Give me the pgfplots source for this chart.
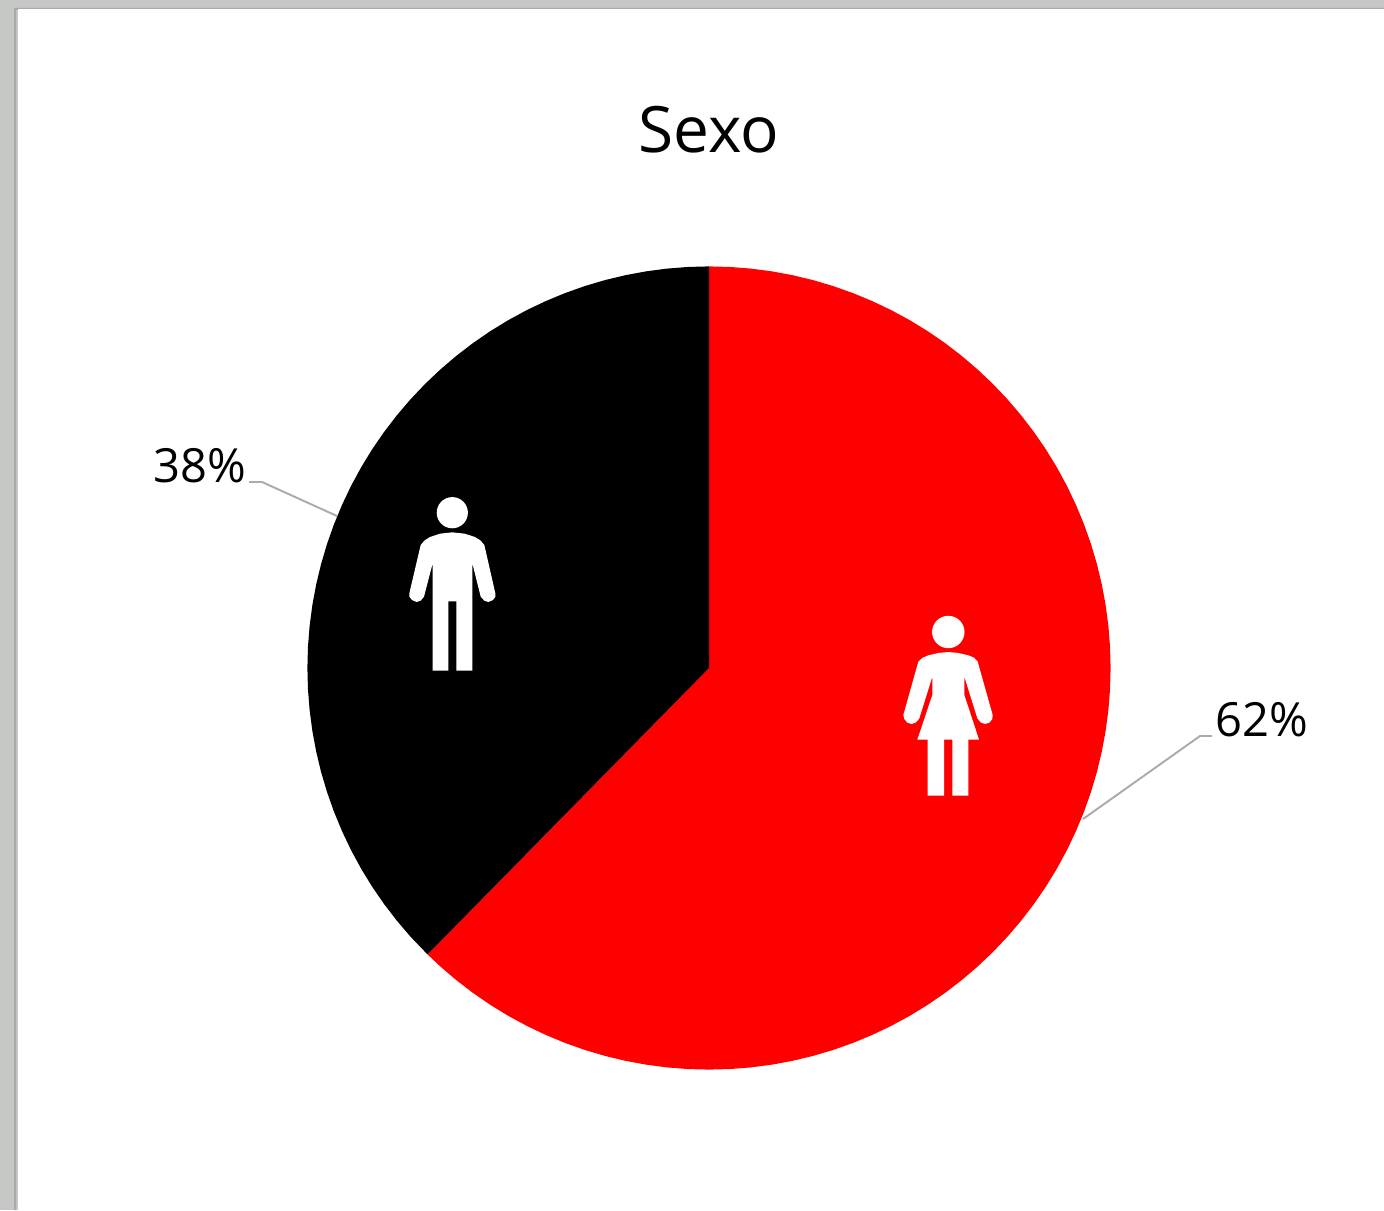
\documentclass[border=0pt]{standalone}
\usepackage{pgfplots}
\pgfplotsset{compat=1.18}
\usepackage{fontspec}
\setmainfont{Open Sans}
\definecolor{pagegrey}{HTML}{C6C8C6}
\definecolor{shadowgrey}{HTML}{A9ABA9}
\definecolor{leader}{HTML}{ABABAB}
\begin{document}
\begin{tikzpicture}
\begin{axis}[
  hide axis, scale only axis, width=13.84cm, height=12.1cm,
  xmin=-709, xmax=675, ymin=-542, ymax=668,
  clip=true, axis equal image=false
]
% window background (pixels measured from the pie centre)
\addplot[fill=pagegrey,draw=none] coordinates {(-709,668)(675,668)(675,-542)(-709,-542)} --cycle;
\addplot[fill=shadowgrey,draw=none] coordinates {(-695,660)(675,660)(675,658)(-693,658)(-693,-542)(-695,-542)} --cycle;
\addplot[fill=white,draw=none] coordinates {(-691,659)(675,659)(675,-542)(-691,-542)} --cycle;
% Mujer 62 %
\addplot[data cs=polar,fill=red,draw=none] coordinates {
(0,0)(90,401.6)(87,401.6)(84,401.6)(81,401.6)(78,401.6)(75,401.6)(72,401.6)(69,401.6)(66,401.6)(63,401.6)(60,401.6)(57,401.6)(54,401.6)(51,401.6)(48,401.6)(45,401.6)(42,401.6)(39,401.6)(36,401.6)(33,401.6)(30,401.6)(27,401.6)(24,401.6)(21,401.6)(18,401.6)(15,401.6)(12,401.6)(9,401.6)(6,401.6)(3,401.6)(0,401.6)
(-3,401.6)(-6,401.6)(-9,401.6)(-12,401.6)(-15,401.6)(-18,401.6)(-21,401.6)(-24,401.6)(-27,401.6)(-30,401.6)(-33,401.6)(-36,401.6)(-39,401.6)(-42,401.6)(-45,401.6)(-48,401.6)(-51,401.6)(-54,401.6)(-57,401.6)(-60,401.6)(-63,401.6)(-66,401.6)(-69,401.6)(-72,401.6)(-75,401.6)(-78,401.6)(-81,401.6)(-84,401.6)(-87,401.6)(-90,401.6)(-93,401.6)(-96,401.6)(-99,401.6)(-102,401.6)(-105,401.6)(-108,401.6)(-111,401.6)(-114,401.6)(-117,401.6)(-120,401.6)(-123,401.6)(-126,401.6)(-129,401.6)(-132,401.6)(-134.5,401.6)
} --cycle;
% Hombre 38 %
\addplot[data cs=polar,fill=black,draw=none] coordinates {
(0,0)(90,401.6)(93,401.6)(96,401.6)(99,401.6)(102,401.6)(105,401.6)(108,401.6)(111,401.6)(114,401.6)(117,401.6)(120,401.6)(123,401.6)(126,401.6)(129,401.6)(132,401.6)(135,401.6)(138,401.6)(141,401.6)(144,401.6)(147,401.6)(150,401.6)(153,401.6)(156,401.6)(159,401.6)(162,401.6)(165,401.6)(168,401.6)(171,401.6)(174,401.6)(177,401.6)(180,401.6)(183,401.6)(186,401.6)(189,401.6)(192,401.6)(195,401.6)(198,401.6)(201,401.6)(204,401.6)(207,401.6)(210,401.6)(213,401.6)(216,401.6)(219,401.6)(222,401.6)(225.5,401.6)
} --cycle;
% leader lines
\addplot[leader,line width=0.55pt] coordinates {(-460,186)(-447,186)(-372,152)};
\addplot[leader,line width=0.55pt] coordinates {(503,-68)(491,-68)(374,-151)};
% man icon
\addplot[fill=white,draw=none] table[x expr=\thisrowno{0}/3+390-709,y expr=668-(\thisrowno{1}/3+485)] {
92 180
104 166
120 156
150 146
187 142
224 146
255 156
271 166
283 180
316 325
316 335
309 345
295 351
283 347
272 335
247 235
247 557
199 557
199 349
175 349
175 557
128 557
128 235
102 335
92 347
80 351
66 345
58 335
58 325
};
\addplot[fill=white,draw=none] table[x expr=\thisrowno{0}/3+890-709,y expr=668-(\thisrowno{1}/3+605)] {
85 170
98 158
115 151
145 144
175 141
205 144
235 151
252 158
263 170
308 330
307 342
298 353
285 357
272 352
262 340
223 215
223 270
267 404
235 404
235 572
187 572
187 404
162 404
162 572
113 572
113 404
82 404
127 270
127 215
88 340
78 352
65 357
52 353
43 342
40 330
};
\fill[white] (axis cs:-256.7,155.3) circle[radius=0.156cm];
\fill[white] (axis cs:239.3,36) circle[radius=0.162cm];
% text
\node[anchor=center,inner sep=0pt] at (axis cs:0,538) {\fontsize{18.2pt}{22pt}\selectfont Sexo};
\node[anchor=center,inner sep=0pt] at (axis cs:-509,202) {\fontsize{13.4pt}{16pt}\selectfont 38\%};
\node[anchor=center,inner sep=0pt] at (axis cs:553,-52) {\fontsize{13.4pt}{16pt}\selectfont 62\%};
\end{axis}
\end{tikzpicture}
\end{document}
